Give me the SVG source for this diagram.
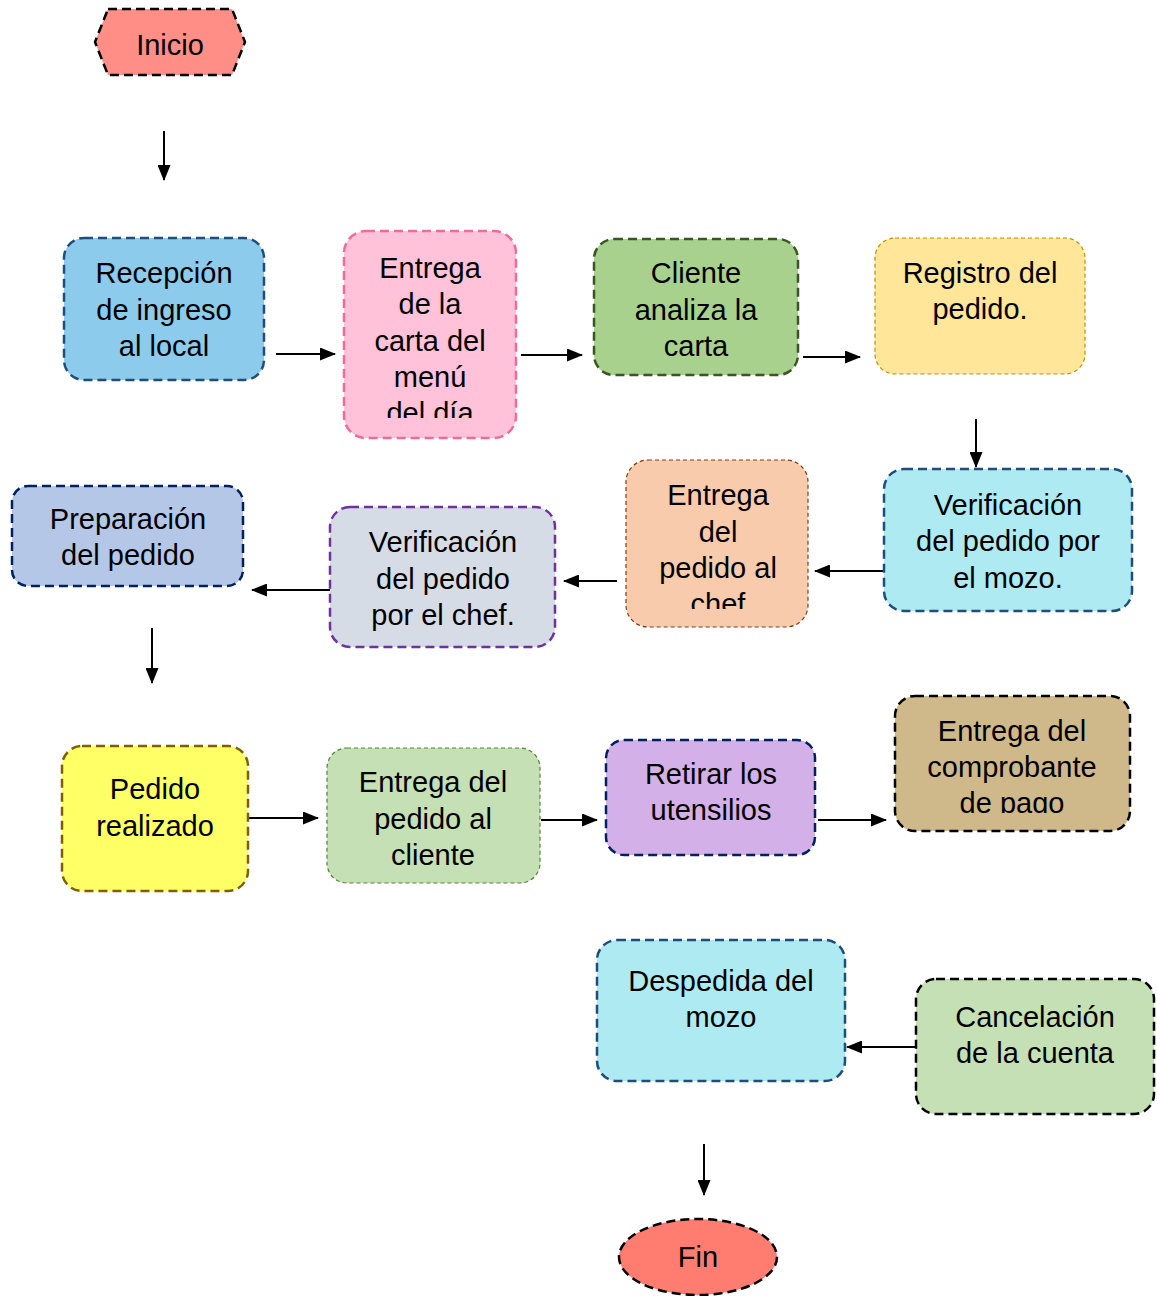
<svg xmlns="http://www.w3.org/2000/svg" width="1157" height="1296" viewBox="0 0 1157 1296">
<style>
.t{font-family:"Liberation Sans",Arial,sans-serif;font-size:29px;fill:#000;text-anchor:middle}
.thick{stroke-width:2.5;stroke-dasharray:9 5}
.thin{stroke-width:1.2;stroke-dasharray:4 3}
.c{stroke:#000;stroke-width:2;fill:none}
</style>
<defs>
<marker id="ah" viewBox="0 0 16 13" refX="15" refY="6.5" markerWidth="16" markerHeight="13" markerUnits="userSpaceOnUse" orient="auto">
<path d="M0,0 L16,6.5 L0,13 Z" fill="#000"/>
</marker>
<clipPath id="cp2"><rect x="344" y="231" width="172" height="187"/></clipPath>
<clipPath id="cp6"><rect x="626" y="460" width="182" height="149"/></clipPath>
<clipPath id="cp12"><rect x="895" y="696" width="235" height="117"/></clipPath>
</defs>
<rect width="1157" height="1296" fill="#fff"/>
<g id="connectors">
<line class="c" x1="164" y1="131" x2="164" y2="180" marker-end="url(#ah)"/>
<line class="c" x1="276" y1="354" x2="335" y2="354" marker-end="url(#ah)"/>
<line class="c" x1="521" y1="355" x2="582" y2="355" marker-end="url(#ah)"/>
<line class="c" x1="803" y1="357" x2="860" y2="357" marker-end="url(#ah)"/>
<line class="c" x1="976" y1="419" x2="976" y2="467" marker-end="url(#ah)"/>
<line class="c" x1="884" y1="571" x2="815" y2="571" marker-end="url(#ah)"/>
<line class="c" x1="617" y1="581" x2="564" y2="581" marker-end="url(#ah)"/>
<line class="c" x1="330" y1="590" x2="252" y2="590" marker-end="url(#ah)"/>
<line class="c" x1="152" y1="628" x2="152" y2="683" marker-end="url(#ah)"/>
<line class="c" x1="249" y1="818" x2="318" y2="818" marker-end="url(#ah)"/>
<line class="c" x1="541" y1="820" x2="597" y2="820" marker-end="url(#ah)"/>
<line class="c" x1="818" y1="820" x2="886" y2="820" marker-end="url(#ah)"/>
<line class="c" x1="916" y1="1047" x2="847" y2="1047" marker-end="url(#ah)"/>
<line class="c" x1="704" y1="1144" x2="704" y2="1195" marker-end="url(#ah)"/>
</g>
<g id="inicio">
<polygon class="thick" points="108,9 232,9 245,42 232,75 108,75 95,42" fill="#FF8E86" stroke="#000"/>
<text class="t" x="170" y="55">Inicio</text>
</g>
<g id="recepcion">
<rect class="thick" x="64" y="238" width="200" height="142" rx="20" fill="#8CCBEC" stroke="#1F4E79"/>
<text class="t" x="164" y="283">Recepción</text>
<text class="t" x="164" y="320">de ingreso</text>
<text class="t" x="164" y="356">al local</text>
</g>
<g id="entrega-carta">
<rect class="thick" x="344" y="231" width="172" height="207" rx="22" fill="#FFC2D8" stroke="#F06A9A"/>
<g clip-path="url(#cp2)">
<text class="t" x="430" y="278">Entrega</text>
<text class="t" x="430" y="314">de la</text>
<text class="t" x="430" y="351">carta del</text>
<text class="t" x="430" y="387">menú</text>
<text class="t" x="430" y="423">del día</text>
</g>
</g>
<g id="cliente">
<rect class="thick" x="594" y="239" width="204" height="136" rx="20" fill="#A9D18E" stroke="#385723"/>
<text class="t" x="696" y="283">Cliente</text>
<text class="t" x="696" y="320">analiza la</text>
<text class="t" x="696" y="356">carta</text>
</g>
<g id="registro">
<rect class="thin" x="875" y="238" width="210" height="136" rx="20" fill="#FFE699" stroke="#BF9000"/>
<text class="t" x="980" y="283">Registro del</text>
<text class="t" x="980" y="319">pedido.</text>
</g>
<g id="verif-mozo">
<rect class="thick" x="884" y="469" width="248" height="142" rx="20" fill="#AEEAF2" stroke="#1F4E79"/>
<text class="t" x="1008" y="515">Verificación</text>
<text class="t" x="1008" y="551">del pedido por</text>
<text class="t" x="1008" y="588">el mozo.</text>
</g>
<g id="entrega-chef">
<rect class="thin" x="626" y="460" width="182" height="167" rx="22" fill="#F8CBAD" stroke="#843C0C"/>
<g clip-path="url(#cp6)">
<text class="t" x="718" y="505">Entrega</text>
<text class="t" x="718" y="542">del</text>
<text class="t" x="718" y="578">pedido al</text>
<text class="t" x="718" y="614">chef</text>
</g>
</g>
<g id="verif-chef">
<rect class="thick" x="330" y="507" width="225" height="140" rx="20" fill="#D6DCE5" stroke="#7030A0"/>
<text class="t" x="443" y="552">Verificación</text>
<text class="t" x="443" y="589">del pedido</text>
<text class="t" x="443" y="625">por el chef.</text>
</g>
<g id="preparacion">
<rect class="thick" x="12" y="486" width="231" height="100" rx="16" fill="#B4C7E7" stroke="#002060"/>
<text class="t" x="128" y="529">Preparación</text>
<text class="t" x="128" y="565">del pedido</text>
</g>
<g id="pedido-realizado">
<rect class="thick" x="62" y="746" width="186" height="145" rx="20" fill="#FFFF66" stroke="#7F6000"/>
<text class="t" x="155" y="799">Pedido</text>
<text class="t" x="155" y="836">realizado</text>
</g>
<g id="entrega-cliente">
<rect class="thin" x="327" y="748" width="213" height="135" rx="20" fill="#C5E0B4" stroke="#548235"/>
<text class="t" x="433" y="792">Entrega del</text>
<text class="t" x="433" y="829">pedido al</text>
<text class="t" x="433" y="865">cliente</text>
</g>
<g id="retirar">
<rect class="thick" x="606" y="740" width="209" height="115" rx="18" fill="#D3B1E8" stroke="#002060"/>
<text class="t" x="711" y="784">Retirar los</text>
<text class="t" x="711" y="820">utensilios</text>
</g>
<g id="comprobante">
<rect class="thick" x="895" y="696" width="235" height="135" rx="20" fill="#CFB98B" stroke="#000"/>
<g clip-path="url(#cp12)">
<text class="t" x="1012" y="741">Entrega del</text>
<text class="t" x="1012" y="777">comprobante</text>
<text class="t" x="1012" y="813">de pago</text>
</g>
</g>
<g id="despedida">
<rect class="thick" x="597" y="940" width="248" height="141" rx="20" fill="#AEEAF2" stroke="#1F4E79"/>
<text class="t" x="721" y="991">Despedida del</text>
<text class="t" x="721" y="1027">mozo</text>
</g>
<g id="cancelacion">
<rect class="thick" x="916" y="979" width="238" height="135" rx="20" fill="#C5E0B4" stroke="#000"/>
<text class="t" x="1035" y="1027">Cancelación</text>
<text class="t" x="1035" y="1063">de la cuenta</text>
</g>
<g id="fin">
<ellipse class="thick" cx="698" cy="1257" rx="79" ry="38" fill="#FF7C70" stroke="#000"/>
<text class="t" x="698" y="1267">Fin</text>
</g>
</svg>
